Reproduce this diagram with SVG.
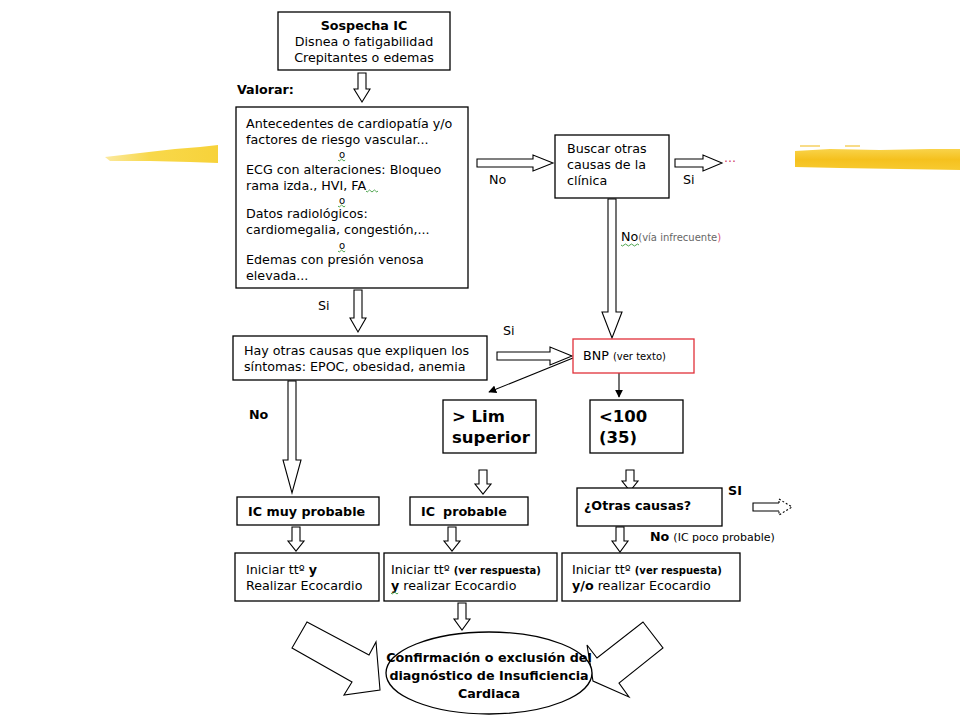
<svg xmlns="http://www.w3.org/2000/svg" width="960" height="720" viewBox="0 0 960 720">
<defs>
<style>
text{font-family:"DejaVu Sans",Verdana,sans-serif;font-size:12.7px;fill:#000}
.b{font-weight:bold}
.box{fill:#fff;stroke:#000;stroke-width:1.3}
.ha{fill:#fff;stroke:#000;stroke-width:1.1;stroke-linejoin:miter}
.thin{stroke:#000;stroke-width:1.1;fill:none}
.sq{fill:none;stroke:#3a9a3a;stroke-width:0.9}
.sm{font-size:10px}
.o{font-size:10px}
.big{font-weight:bold;font-size:16.5px}
</style>
<marker id="ah" viewBox="0 0 10 10" refX="9" refY="5" markerWidth="8" markerHeight="8" orient="auto" markerUnits="userSpaceOnUse">
<path d="M0,0 L10,5 L0,10 z" fill="#000"/>
</marker>
<linearGradient id="yl" x1="0" x2="1" y1="0" y2="0">
<stop offset="0" stop-color="#fbe9a0"/>
<stop offset="0.4" stop-color="#f8d84a"/>
<stop offset="1" stop-color="#f7d23a"/>
</linearGradient>
<linearGradient id="yr" x1="0" x2="0" y1="0" y2="1">
<stop offset="0" stop-color="#f9d34a"/>
<stop offset="0.5" stop-color="#f5c11e"/>
<stop offset="1" stop-color="#f7ca30"/>
</linearGradient>
</defs>

<g id="decor">
<polygon points="105,157 140,153 175,149 200,147 218,145 218,163 190,162 150,161 110,161" fill="url(#yl)"/>
<polygon points="795,151 830,149 880,150 930,149 960,149 960,170 900,169 840,168 795,167" fill="url(#yr)"/>
<line x1="800" y1="146" x2="820" y2="146" stroke="#f6d060" stroke-width="1.5"/>
<line x1="845" y1="146" x2="860" y2="146" stroke="#f6d060" stroke-width="1.5"/>
</g>

<g id="connectors">
<polygon class="ha" points="358,73 366,73 366,89 370,89 362,102 354,89 358,89"/>
<polygon class="ha" points="354,290 362,290 362,318 366,318 358,332 350,318 354,318"/>
<polygon class="ha" points="608,199 616,199 616,312 622,312 612,338 602,312 608,312"/>
<polygon class="ha" points="288,381 296,381 296,460 301,460 292,493 283,460 288,460"/>
<polygon class="ha" points="479,470 487,470 487,484 491,484 483,494 475,484 479,484"/>
<polygon class="ha" points="626,470 634,470 634,481 638,481 630,491 622,481 626,481"/>
<polygon class="ha" points="292,527 300,527 300,541 304,541 296,551 288,541 292,541"/>
<polygon class="ha" points="448,527 456,527 456,541 460,541 452,551 444,541 448,541"/>
<polygon class="ha" points="616,527 624,527 624,541 628,541 620,552 612,541 616,541"/>
<polygon class="ha" points="458,603 466,603 466,619 470,619 462,630 454,619 458,619"/>
<polygon class="ha" points="477,159 533,159 533,155 553,163 533,171 533,167 477,167"/>
<polygon class="ha" points="675,159 703,159 703,155 722,163 703,171 703,167 675,167"/>
<polygon class="ha" points="497,352 550,352 550,347 572,356 550,365 550,360 497,360"/>
<polyline class="thin" points="779,503 753,503 753,511 779,511"/>
<polyline class="thin" stroke-dasharray="2,2" points="779,503 779,499 792,507 779,515 779,511"/>
<polygon class="ha" points="307,622 369,655 376,642 380,690 344,695 352,682 292,648"/>
<polygon class="ha" points="643,622 663,648 619,683 629,697 593,681 587,645 597,658"/>
<line class="thin" x1="573" y1="358" x2="489" y2="392" marker-end="url(#ah)"/>
<line class="thin" x1="619" y1="373" x2="619" y2="397" marker-end="url(#ah)"/>
</g>

<g id="n1">
<rect class="box" x="278" y="12" width="172" height="58"/>
<text x="364" y="30" text-anchor="middle" class="b">Sospecha IC</text>
<text x="364" y="46" text-anchor="middle">Disnea o fatigabilidad</text>
<text x="364" y="62" text-anchor="middle">Crepitantes o edemas</text>
</g>

<g id="n2">
<rect class="box" x="236" y="107" width="232" height="181"/>
<text x="246" y="128">Antecedentes de cardiopatía y/o</text>
<text x="246" y="144">factores de riesgo vascular...</text>
<text x="339" y="158" class="o">o</text>
<path class="sq" d="M338,160 q1.2,2 2.4,0 t2.4,0 t2.4,0"/>
<text x="246" y="174">ECG con alteraciones: Bloqueo</text>
<text x="246" y="190">rama izda., HVI, FA</text>
<path class="sq" d="M366,191 q1.2,2 2.4,0 t2.4,0 t2.4,0 t2.4,0 t2.4,0"/>
<text x="339" y="204" class="o">o</text>
<path class="sq" d="M338,206 q1.2,2 2.4,0 t2.4,0 t2.4,0"/>
<text x="246" y="218">Datos radiológicos:</text>
<text x="246" y="234">cardiomegalia, congestión,...</text>
<text x="339" y="249" class="o">o</text>
<path class="sq" d="M338,251 q1.2,2 2.4,0 t2.4,0 t2.4,0"/>
<text x="246" y="264">Edemas con presión venosa</text>
<text x="246" y="280">elevada...</text>
</g>

<g id="n3">
<rect class="box" x="555" y="135" width="114" height="63"/>
<text x="567" y="153">Buscar otras</text>
<text x="567" y="169">causas de la</text>
<text x="567" y="185">clínica</text>
</g>

<g id="n4">
<rect class="box" x="233" y="336" width="254" height="44"/>
<text x="244" y="355">Hay otras causas que expliquen los</text>
<text x="244" y="371">síntomas: EPOC, obesidad, anemia</text>
</g>

<g id="n5">
<rect x="573" y="339" width="121" height="34" fill="#fff" stroke="#e0303a" stroke-width="1.3"/>
<text x="583" y="360">BNP <tspan class="sm">(ver texto)</tspan></text>
</g>

<g id="n6">
<rect class="box" x="443" y="400" width="93" height="53"/>
<text x="452" y="422" class="big">&gt; Lim</text>
<text x="452" y="443" class="big">superior</text>
</g>

<g id="n7">
<rect class="box" x="590" y="400" width="93" height="53"/>
<text x="599" y="422" class="big">&lt;100</text>
<text x="599" y="443" class="big">(35)</text>
</g>

<g id="n8">
<rect class="box" x="237" y="497" width="142" height="28"/>
<text x="248" y="516" class="b">IC muy probable</text>
</g>

<g id="n9">
<rect class="box" x="410" y="497" width="118" height="28"/>
<text x="421" y="516" class="b">IC<tspan dx="8">probable</tspan></text>
</g>

<g id="n10">
<rect class="box" x="577" y="488" width="145" height="38"/>
<text x="584" y="510" class="b">¿Otras causas?</text>
</g>

<g id="n11">
<rect class="box" x="235" y="553" width="144" height="48"/>
<text x="246" y="574">Iniciar ttº <tspan class="b">y</tspan></text>
<text x="246" y="590">Realizar Ecocardio</text>
</g>

<g id="n12">
<rect class="box" x="384" y="553" width="173" height="48"/>
<text x="391" y="574">Iniciar ttº <tspan class="b" font-size="10">(ver respuesta)</tspan></text>
<text x="391" y="590"><tspan class="b">y</tspan> realizar Ecocardio</text>
<path class="sq" d="M391,593 q1.2,2 2.4,0 t2.4,0 t2.4,0"/>
</g>

<g id="n13">
<rect class="box" x="562" y="553" width="178" height="48"/>
<text x="572" y="574">Iniciar ttº <tspan class="b" font-size="10">(ver respuesta)</tspan></text>
<text x="572" y="590"><tspan class="b">y/o</tspan> realizar Ecocardio</text>
</g>

<g id="n14">
<ellipse cx="489" cy="673" rx="103" ry="41" fill="#fff" stroke="#000" stroke-width="1.3"/>
<text x="489" y="662" text-anchor="middle" class="b" font-size="13">Confirmación o exclusión del</text>
<text x="489" y="680" text-anchor="middle" class="b" font-size="13">diagnóstico de Insuficiencia</text>
<text x="489" y="698" text-anchor="middle" class="b" font-size="13">Cardiaca</text>
</g>

<g id="labels">
<text x="237" y="94" class="b" font-size="13">Valorar:</text>
<text x="489" y="184">No</text>
<text x="683" y="184">Si</text>
<text x="724" y="162" font-size="9" style="fill:#d0406a">...</text>
<text x="621" y="241">No<tspan font-size="10" style="fill:#666">(vía infrecuente</tspan><tspan font-size="10" style="fill:#e05070">)</tspan></text>
<path class="sq" d="M621,245 q1.5,2 3,0 t3,0 t3,0 t3,0 t3,0 t3,0"/>
<text x="318" y="310">Si</text>
<text x="503" y="335">Si</text>
<text x="249" y="419" class="b">No</text>
<text x="728" y="495" class="b">SI</text>
<text x="650" y="541"><tspan class="b">No</tspan><tspan font-size="11" dx="4">(IC poco probable)</tspan></text>
</g>
</svg>
